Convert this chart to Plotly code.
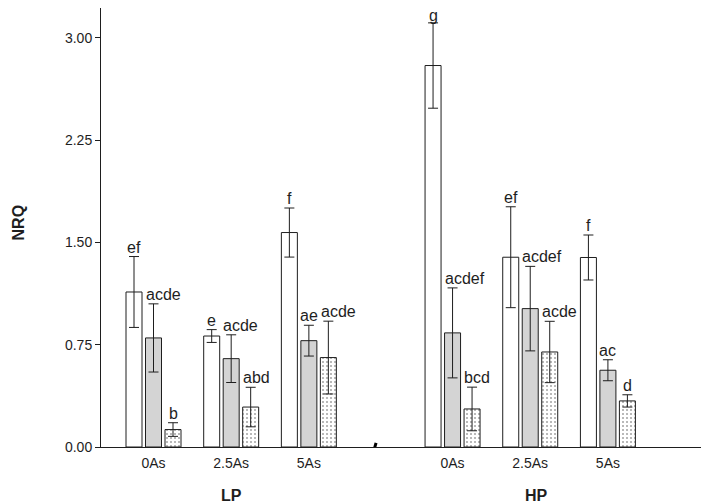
import plotly.graph_objects as go

# group positions on a numeric axis (LP groups, then HP groups after the break)
groups = ["0As", "2.5As", "5As", "0As", "2.5As", "5As"]
group_pos = [0, 1, 2, 3.85, 4.85, 5.85]

# NRQ means and error (half-length) per series
white_vals = [1.137, 0.814, 1.573, 2.798, 1.392, 1.390]
white_err = [0.26, 0.047, 0.18, 0.313, 0.37, 0.165]
grey_vals = [0.800, 0.648, 0.780, 0.837, 1.015, 0.563]
grey_err = [0.25, 0.175, 0.113, 0.33, 0.31, 0.077]
dot_vals = [0.128, 0.293, 0.656, 0.279, 0.697, 0.338]
dot_err = [0.05, 0.145, 0.267, 0.16, 0.225, 0.045]

white_letters = ["ef", "e", "f", "g", "ef", "f"]
grey_letters = ["acde", "acde", "ae", "acdef", "acdef", "ac"]
dot_letters = ["b", "abd", "acde", "bcd", "acde", "d"]

panel_labels = ["LP", "HP"]
panel_pos = [1.0, 4.93]

BW = 0.206
OFFSETS = [-0.354, -0.103, 0.148]
FONT = "Liberation Sans, Arial, sans-serif"
INK = "#1e1e1e"

fig = go.Figure()

series = [
    (white_vals, white_err, white_letters, dict(color="white")),
    (grey_vals, grey_err, grey_letters, dict(color="#d4d4d4")),
    (dot_vals, dot_err, dot_letters,
     dict(color="white", pattern=dict(shape=".", fgcolor="#444444",
                                       bgcolor="white", size=4, solidity=0.2))),
]

for (vals, errs, letters, marker), off in zip(series, OFFSETS):
    marker["line"] = dict(color=INK, width=1)
    fig.add_trace(go.Bar(
        x=group_pos, y=vals, width=BW, offset=off,
        marker=marker,
        error_y=dict(type="data", array=errs, color=INK, thickness=1, width=5),
        showlegend=False,
    ))
    for p, v, e, t in zip(group_pos, vals, errs, letters):
        if len(t) <= 2:
            xa, xv = "center", p + off + BW / 2
        else:
            xa, xv = "left", p + off - 0.01
        # labels right at the top edge get nudged down so they stay on the page
        ys = -2 if v + e > 3.0 else 0
        fig.add_annotation(x=xv, y=v + e, xref="x", yref="y", text=t,
                           showarrow=False, xanchor=xa, yanchor="bottom",
                           yshift=ys, borderpad=0,
                           font=dict(family=FONT, size=16, color=INK))

for lab, p in zip(panel_labels, panel_pos):
    fig.add_annotation(x=p, y=-0.110, xref="x", yref="paper", text="<b>%s</b>" % lab,
                       showarrow=False, xanchor="center", yanchor="middle",
                       font=dict(family=FONT, size=16, color=INK))

fig.add_annotation(x=-0.137, y=0.512, xref="paper", yref="paper", text="<b>NRQ</b>",
                   showarrow=False, textangle=-90, xanchor="center", yanchor="middle",
                   font=dict(family=FONT, size=16, color=INK))

# axis break mark
fig.add_shape(type="line", x0=2.835, x1=2.865, y0=-0.03, y1=0.03, xref="x", yref="y",
              line=dict(color="black", width=3), layer="above")

# page body has an 8px margin, so the margins below are shifted to compensate
fig.update_layout(
    width=709, height=504,
    margin=dict(l=93, r=12, t=0, b=65),
    plot_bgcolor="white", paper_bgcolor="white",
    font=dict(family=FONT, size=14, color=INK),
    xaxis=dict(range=[-0.676, 7.1], tickvals=group_pos, ticktext=groups,
               showline=True, linecolor=INK, linewidth=1, ticks="",
               ticklabelstandoff=3,
               showgrid=False, zeroline=False, tickfont=dict(size=14)),
    yaxis=dict(range=[0, 3.22], tickvals=[0, 0.75, 1.5, 2.25, 3.0],
               tickformat=".2f", showline=True, linecolor=INK, linewidth=1,
               ticks="outside", ticklen=5, tickcolor=INK,
               showgrid=False, zeroline=False, tickfont=dict(size=14)),
)

fig.write_html("out.html")
